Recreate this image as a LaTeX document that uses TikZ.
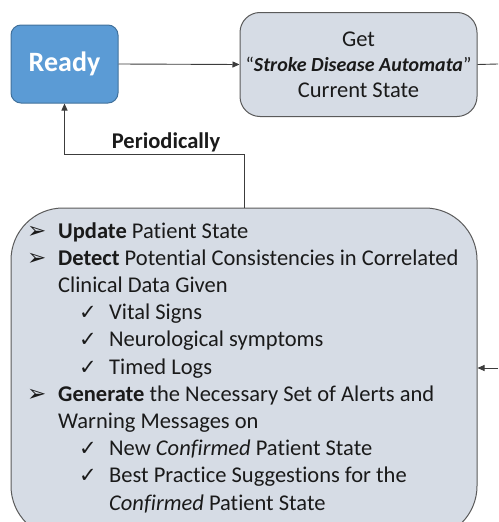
\documentclass[tikz,border=0pt]{standalone}
\usepackage{fontspec}
\setmainfont{Carlito}[Ligatures=NoCommon]
\newfontfamily\symfont{DejaVu Sans}
\usetikzlibrary{arrows.meta}
\definecolor{readyfill}{HTML}{5B9BD5}
\definecolor{readyline}{HTML}{41719C}
\definecolor{procfill}{HTML}{D6DCE5}
\definecolor{procline}{HTML}{5A5A5A}
\definecolor{ink}{HTML}{1A1A1A}
\begin{document}
\begin{tikzpicture}[x=1pt,y=-1pt,
  wire/.style={draw=ink!85, line width=0.9pt},
  conn/.style={wire, -{Triangle[length=7pt,width=6pt]}},
  body/.style={font=\fontsize{22.5}{25.5}\selectfont, text=ink},
  txt/.style={body, anchor=base west, inner sep=0pt},
  arrowbullet/.style={anchor=base west, inner sep=0pt, text=ink, font=\symfont\fontsize{23}{23}\selectfont},
  checkbullet/.style={anchor=base west, inner sep=0pt, text=ink, font=\symfont\fontsize{21}{21}\selectfont},
  readybox/.style={draw=readyline, fill=readyfill, line width=1pt, rounded corners=10pt,
    minimum width=107pt, minimum height=78pt, text=white, font=\bfseries\fontsize{28}{30}\selectfont},
  getbox/.style={draw=procline, fill=procfill, line width=1pt, rounded corners=20pt,
    minimum width=237pt, minimum height=104pt, inner sep=0pt, align=center, body},
  procbox/.style={draw=procline, fill=procfill, line width=1pt, rounded corners=52pt,
    minimum width=466pt, minimum height=330pt}]
\useasboundingbox (0,0) rectangle (498,522);

% states
\node[readybox] (ready) at (64.5,64) {Ready};
\node[getbox] (get) at (358.5,64.5) {Get\\{\fontsize{20}{25.5}\selectfont``\textbf{\textit{Stroke Disease Automata}}''}\\Current State};
\node[procbox] (proc) at (244,373) {};

% connectors
\coordinate (outright) at (498,64);
\coordinate (inright) at (498,368);
\draw[conn] (ready.east) -- (get.west);
\draw[wire] (get.east) -- (outright);
\draw[conn] (inright) -- (proc.east |- inright);
\draw[conn] (proc.north) -- ++(0,-53) -| (ready.south);
\node[font=\bfseries\fontsize{22.5}{24}\selectfont, text=ink, anchor=base, inner sep=0pt] (period) at (166,148) {Periodically};

% task list
\node[arrowbullet] (b1) at (27,238) {➢};
\node[txt] (l1) at (58,238) {\textbf{Update} Patient State};
\node[arrowbullet] (b2) at (27,265.2) {➢};
\node[txt] (l2) at (58,265.2) {\textbf{Detect} Potential Consistencies in Correlated};
\node[txt] (l3) at (58,292.4) {Clinical Data Given};
\node[checkbullet] (c1) at (79,319.6) {✓};
\node[txt] (l4) at (109,319.6) {Vital Signs};
\node[checkbullet] (c2) at (79,346.8) {✓};
\node[txt] (l5) at (109,346.8) {Neurological symptoms};
\node[checkbullet] (c3) at (79,374) {✓};
\node[txt] (l6) at (109,374) {Timed Logs};
\node[arrowbullet] (b3) at (27,401.2) {➢};
\node[txt] (l7) at (58,401.2) {\textbf{Generate} the Necessary Set of Alerts and};
\node[txt] (l8) at (58,428.4) {Warning Messages on};
\node[checkbullet] (c4) at (79,455.6) {✓};
\node[txt] (l9) at (109,455.6) {New \textit{Confirmed} Patient State};
\node[checkbullet] (c5) at (79,482.8) {✓};
\node[txt] (l10) at (109,482.8) {Best Practice Suggestions for the};
\node[txt] (l11) at (109,510) {\textit{Confirmed} Patient State};
\end{tikzpicture}
\end{document}
